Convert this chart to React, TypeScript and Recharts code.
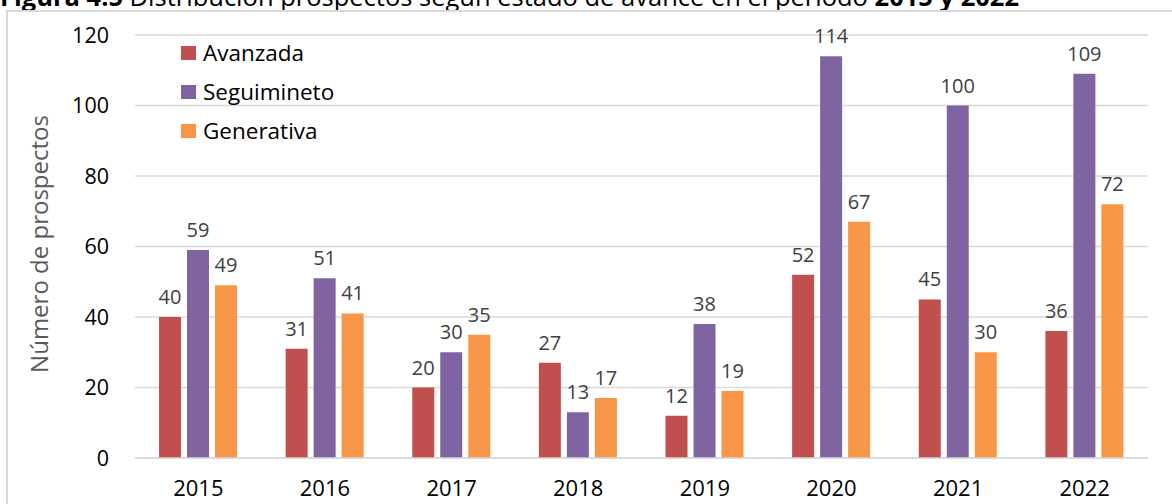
import { BarChart, Bar, XAxis, YAxis, CartesianGrid, LabelList } from "recharts";

const years = ["2015", "2016", "2017", "2018", "2019", "2020", "2021", "2022"];
const avanzada = [40, 31, 20, 27, 12, 52, 45, 36];
const seguimiento = [59, 51, 30, 13, 38, 114, 100, 109];
const generativa = [49, 41, 35, 17, 19, 67, 30, 72];
const yTicks = [0, 20, 40, 60, 80, 100, 120];

const series = [
  { key: "avanzada", name: "Avanzada", color: "#C0504D" },
  { key: "seguimiento", name: "Seguimineto", color: "#8064A2" },
  { key: "generativa", name: "Generativa", color: "#F79646" },
];

const data = years.map((y, i) => ({
  year: y,
  avanzada: avanzada[i],
  seguimiento: seguimiento[i],
  generativa: generativa[i],
}));

const FONT = "'Open Sans', sans-serif";

function YTitle() {
  return (
    <text
      x={38}
      y={244}
      transform="rotate(-90 38 244)"
      textAnchor="middle"
      dominantBaseline="central"
      fill="#595959"
      fontSize={24}
      fontFamily={FONT}
    >
      Número de prospectos
    </text>
  );
}

export default function App() {
  return (
    <div
      style={{
        position: "fixed",
        top: 0,
        left: 0,
        width: 1172,
        height: 504,
        overflow: "hidden",
        background: "#fff",
        fontFamily: FONT,
      }}
    >
      {/* caption, cut off at the top like the source */}
      <div
        style={{
          position: "absolute",
          top: -17,
          left: 0,
          fontSize: 25.5,
          lineHeight: "26px",
          whiteSpace: "nowrap",
          color: "#000",
        }}
      >
        <b>Figura 4.5</b> Distribución prospectos según estado de avance en el periodo <b>2015 y 2022</b>
      </div>
      <div
        style={{
          position: "absolute",
          top: 10,
          left: 6,
          right: 0,
          bottom: 0,
          borderTop: "2px solid #d9d9d9",
          borderLeft: "2px solid #d9d9d9",
        }}
      />
      <div style={{ position: "absolute", top: 0, left: 0 }}>
        <BarChart
          width={1172}
          height={504}
          data={data}
          margin={{ top: 35, right: 24, bottom: 0, left: 0 }}
          barSize={22}
          barGap={6}
        >
          <CartesianGrid vertical={false} stroke="#d9d9d9" strokeWidth={1.5} />
          <XAxis
            dataKey="year"
            height={46}
            axisLine={{ stroke: "#d9d9d9", strokeWidth: 1.5 }}
            tickLine={false}
            tickMargin={16}
            tick={{ fill: "#000", fontSize: 22, fontFamily: FONT }}
          />
          <YAxis
            width={135}
            domain={[0, 120]}
            ticks={yTicks}
            axisLine={false}
            tickLine={false}
            tickMargin={20}
            tick={{ fill: "#000", fontSize: 21.5, fontFamily: FONT }}
          />
          {series.map((s) => (
            <Bar key={s.key} dataKey={s.key} name={s.name} fill={s.color} isAnimationActive={false}>
              <LabelList
                dataKey={s.key}
                position="top"
                offset={13}
                fill="#404040"
                fontSize={20}
                fontFamily={FONT}
              />
            </Bar>
          ))}
          <YTitle />
        </BarChart>
      </div>
      {/* legend */}
      <div style={{ position: "absolute", left: 181, top: 33 }}>
        {series.map((s) => (
          <div
            key={s.key}
            style={{ display: "flex", alignItems: "center", height: 39, fontSize: 22.5, color: "#000" }}
          >
            <span style={{ width: 15, height: 14, background: s.color, marginRight: 7 }} />
            {s.name}
          </div>
        ))}
      </div>
    </div>
  );
}
